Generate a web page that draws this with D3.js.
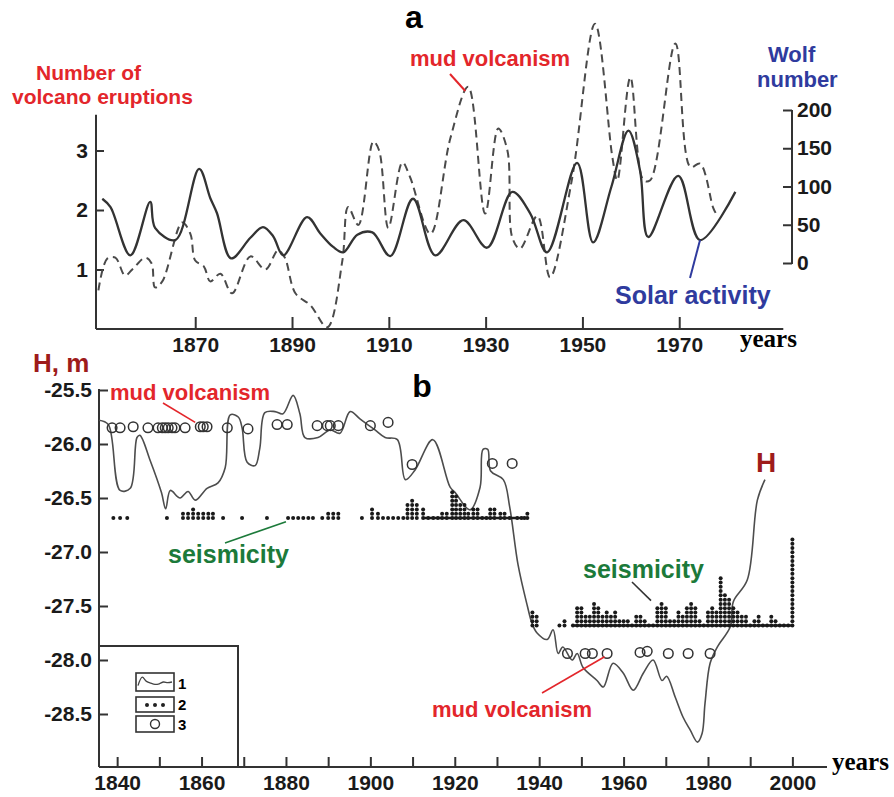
<!DOCTYPE html>
<html>
<head>
<meta charset="utf-8">
<script src="https://cdn.jsdelivr.net/npm/d3@7"></script>
<style>
  body { margin: 0; background: #fff; }
  svg { display: block; }
</style>
</head>
<body>
<div id="chart"></div>
<script>
var W = 894, H = 797;
var sans = "'Liberation Sans', Arial, sans-serif";
var serif = "'Liberation Serif', 'Times New Roman', serif";
var red = "#e3262b", blue = "#2f3b9e", green = "#1c7a3a", darkred = "#9e1b1b";

// ---- panel a data ----
var solarYears = [1850.8, 1852.5, 1856.6, 1860.7, 1861.7, 1865.9, 1870.8, 1873.1, 1874.5, 1877.4,
                  1881.4, 1884.0, 1886.1, 1888.2, 1893.1, 1895.8, 1898.5, 1900.6, 1903.5, 1906.6,
                  1910.3, 1915.0, 1919.6, 1925.4, 1930.3, 1935.5, 1939.2, 1942.7, 1948.9, 1952.2,
                  1956.0, 1959.5, 1961.9, 1963.6, 1969.8, 1974.3, 1981.6];
var solarWolf  = [84, 73, 10, 80, 46, 30, 123, 85, 65, 6,
                  33, 47, 35, 10, 60, 39, 21, 14, 37, 40,
                  9, 84, 10, 56, 20, 93, 65, 14, 131, 27,
                  100, 173, 121, 34, 114, 30, 93];

var volcYears = [1850.0, 1851.8, 1853.5, 1855.5, 1857.0, 1859.7, 1861.0, 1861.7, 1863.2, 1867.3,
                 1869.0, 1870.0, 1871.8, 1873.1, 1875.2, 1877.6, 1881.4, 1884.5, 1887.1, 1888.5,
                 1890.7, 1893.8, 1897.3, 1900.4, 1901.6, 1903.7, 1906.8, 1908.0, 1909.9, 1912.8,
                 1914.4, 1918.6, 1922.7, 1926.4, 1929.9, 1932.6, 1934.5, 1935.5, 1937.1, 1940.7,
                 1943.3, 1947.8, 1952.6, 1956.2, 1957.2, 1959.9, 1962.6, 1964.0, 1969.2, 1972.3,
                 1974.3, 1977.0, 1977.6];
var volcCount = [0.65, 1.18, 1.2, 0.9, 1.0, 1.2, 1.1, 0.7, 0.8, 1.79,
                 1.6, 1.15, 1.05, 0.8, 0.93, 0.6, 1.22, 1.0, 1.32, 1.2,
                 0.6, 0.4, 0.03, 1.15, 2.05, 1.75, 3.15, 3.0, 1.7, 2.8,
                 2.55, 1.6, 3.2, 4.07, 1.94, 3.37, 3.0, 1.54, 1.35, 1.9,
                 0.87, 2.5, 5.13, 2.88, 2.5, 4.23, 2.5, 2.5, 4.8, 2.72,
                 2.78, 2.04, 1.94];

var aYearTicks = [1870, 1890, 1910, 1930, 1950, 1970];
var aLeftTicks = [1, 2, 3];
var aRightTicks = [0, 50, 100, 150, 200];

// ---- panel b data ----
var hYears = [1835.7, 1837.9, 1840.7, 1843.1, 1844.7, 1845.4, 1847.8, 1850.5, 1851.5, 1852.6,
              1854.9, 1856.8, 1858.5, 1861.3, 1863.9, 1865.6, 1866.8, 1868.7, 1869.6, 1870.8,
              1872.7, 1873.8, 1875.0, 1877.4, 1879.3, 1881.7, 1883.3, 1884.5, 1887.6, 1890.5,
              1892.8, 1895.2, 1897.6, 1901.1, 1903.5, 1906.4, 1908.3, 1910.6, 1914.8, 1918.9,
              1920.1, 1923.6, 1926.0, 1926.7, 1927.8, 1928.5, 1931.5, 1933.0, 1935.0, 1937.2,
              1938.3, 1939.5, 1941.9, 1943.3, 1944.5, 1945.6, 1947.8, 1949.0, 1950.4, 1953.7,
              1955.2, 1957.5, 1959.9, 1962.3, 1964.7, 1967.0, 1969.1, 1970.2, 1972.2, 1974.1,
              1975.8, 1977.5, 1978.6, 1979.3, 1980.5, 1982.2, 1985.3, 1986.0, 1989.3, 1991.7,
              1993.5];
var hValues = [-25.78, -25.82, -26.43, -26.41, -25.94, -25.92, -26.15, -26.45, -26.6, -26.43,
               -26.5, -26.44, -26.52, -26.41, -26.36, -26.22, -25.73, -25.75, -25.85, -26.17,
               -26.2, -26.04, -25.71, -25.7, -25.72, -25.55, -25.72, -25.94, -25.94, -25.87,
               -25.9, -25.7, -25.77, -25.87, -25.94, -25.96, -26.33, -26.24, -25.96, -26.4,
               -26.45, -26.61, -26.4, -26.05, -26.05, -26.25, -26.33, -26.58, -27.12, -27.5,
               -27.66, -27.75, -27.81, -27.72, -27.94, -27.88, -28.0, -27.94, -28.07, -28.19,
               -28.25, -28.03, -28.12, -28.28, -28.12, -28.0, -28.19, -28.15, -28.34, -28.53,
               -28.65, -28.76, -28.68, -28.4, -28.03, -27.88, -27.69, -27.46, -27.26, -26.52,
               -26.33];

var mudYears = [1838.8, 1840.7, 1843.8, 1847.3, 1849.7, 1850.7, 1851.4, 1852.1, 1853.0, 1853.7,
                1856.1, 1859.7, 1860.4, 1861.3, 1866.1, 1871.0, 1877.9, 1880.3, 1887.4, 1889.8,
                1890.5, 1892.4, 1900.0, 1904.2, 1909.9, 1928.9, 1933.6,
                1946.7, 1950.9, 1952.6, 1956.1, 1963.9, 1965.6, 1970.6, 1975.3, 1980.5];
var mudLevel = [-25.85, -25.85, -25.84, -25.85, -25.85, -25.85, -25.85, -25.85, -25.85, -25.85,
                -25.85, -25.84, -25.84, -25.84, -25.85, -25.86, -25.82, -25.82, -25.83, -25.83,
                -25.83, -25.83, -25.83, -25.8, -26.19, -26.18, -26.18,
                -27.94, -27.94, -27.94, -27.94, -27.93, -27.92, -27.94, -27.94, -27.94];

// seismicity: number of stacked dots per position
var seisYears1 = [1839.1, 1840.7, 1842.4, 1851.8, 1855.6, 1856.8, 1858.0, 1859.2, 1860.4, 1861.6,
                  1862.7, 1865.1, 1869.6, 1875.5, 1880.5, 1881.7, 1882.9, 1884.1, 1885.3, 1886.4,
                  1888.6, 1890.0, 1891.2, 1892.4, 1898.0, 1900.4, 1901.8, 1903.0, 1904.2, 1905.4,
                  1906.6, 1907.8, 1908.8, 1909.9, 1911.0, 1912.5, 1913.7, 1914.9, 1916.0, 1917.0,
                  1918.1, 1919.4, 1920.3, 1921.3, 1922.3, 1923.2, 1924.4, 1925.4, 1926.5, 1927.5,
                  1928.4, 1929.4, 1930.8, 1931.8, 1933.0, 1934.8, 1935.8, 1936.5, 1937.2];
var seisCount1 = [1, 1, 1, 1, 2, 2, 3, 2, 2, 2,
                  2, 1, 1, 1, 1, 1, 1, 1, 1, 1,
                  1, 2, 2, 2, 1, 3, 2, 1, 1, 1,
                  1, 1, 4, 5, 4, 3, 1, 1, 1, 2,
                  2, 7, 6, 4, 4, 2, 3, 3, 1, 1,
                  3, 3, 2, 2, 1, 1, 1, 1, 2];
var seisYears2 = [1938.4, 1939.4, 1944.8, 1946.0, 1948.0, 1949.0, 1950.0, 1951.0, 1952.0, 1953.0,
                  1954.0, 1955.0, 1956.0, 1957.0, 1958.0, 1959.0, 1960.0, 1961.0, 1962.0, 1963.0,
                  1964.0, 1965.0, 1966.0, 1967.0, 1968.0, 1969.0, 1970.0, 1971.0, 1972.0, 1973.0,
                  1974.0, 1975.0, 1976.0, 1977.0, 1978.0, 1979.0, 1980.0, 1981.0, 1982.0, 1983.0,
                  1984.0, 1985.0, 1986.0, 1987.0, 1988.0, 1989.0, 1990.0, 1991.0, 1992.0, 1993.0,
                  1994.0, 1995.0, 1996.0, 1997.0, 1998.0, 1999.0, 2000.0];
var seisCount2 = [4, 3, 1, 2, 1, 5, 5, 3, 3, 6,
                  5, 3, 4, 3, 4, 2, 2, 2, 1, 3,
                  3, 2, 1, 1, 5, 6, 5, 2, 2, 4,
                  3, 5, 6, 5, 2, 1, 4, 5, 4, 12,
                  8, 7, 5, 4, 3, 3, 1, 2, 3, 1,
                  1, 3, 2, 1, 1, 1, 21];
var seisBase1 = -26.685, seisBase2 = -27.68;

var bYearTicks = d3.range(1840, 2001, 10);
var bHTicks = [-25.5, -26.0, -26.5, -27.0, -27.5, -28.0, -28.5];
var legendWiggle = [0.2, 0.9, 0.55, 0.4, 0.3, 0.35, 0.5, 0.45, 0.5];

// ---- svg ----
var svg = d3.select("#chart").append("svg")
    .attr("width", W).attr("height", H)
    .style("font-family", sans);
svg.append("rect").attr("width", W).attr("height", H).attr("fill", "#fff");

function styleAxis(g, size) {
  g.select(".domain").remove();
  g.selectAll("line").attr("stroke", "#333").attr("stroke-width", 2);
  g.selectAll("text").attr("font-size", size).attr("font-weight", "bold")
    .attr("fill", "#1a1a1a").style("font-family", sans);
}

// =============== panel a ===============
var xa = d3.scaleLinear().domain([1849.5, 1993.3]).range([96, 792]);
var ya = d3.scaleLinear().domain([0, 3.6]).range([329, 114.8]);
var yw = d3.scaleLinear().domain([0, 200]).range([263, 110]);

var ga = svg.append("g");

ga.append("g")
  .attr("transform", "translate(0,329)")
  .call(d3.axisBottom(xa).tickValues(aYearTicks).tickFormat(d3.format("d"))
        .tickSizeInner(-12).tickSizeOuter(0).tickPadding(8))
  .call(styleAxis, 21);
ga.append("line").attr("x1", xa(1849.5)).attr("x2", xa(1991.5))
  .attr("y1", 329).attr("y2", 329).attr("stroke", "#333").attr("stroke-width", 2);

ga.append("g")
  .attr("transform", "translate(96,0)")
  .call(d3.axisLeft(ya).tickValues(aLeftTicks).tickFormat(d3.format("d"))
        .tickSizeInner(-8).tickSizeOuter(0).tickPadding(8))
  .call(styleAxis, 21);
ga.append("line").attr("x1", 96).attr("x2", 96)
  .attr("y1", ya(3.6)).attr("y2", 329).attr("stroke", "#333").attr("stroke-width", 2);

ga.append("g")
  .attr("transform", "translate(792,0)")
  .call(d3.axisRight(yw).tickValues(aRightTicks)
        .tickSizeInner(-9).tickSizeOuter(0).tickPadding(5))
  .call(styleAxis, 21);
ga.append("line").attr("x1", 792).attr("x2", 792)
  .attr("y1", yw(200)).attr("y2", yw(0) + 1).attr("stroke", "#333").attr("stroke-width", 2);

var solar = solarYears.map(function(d, i) { return {x: d, y: solarWolf[i]}; });
var volc = volcYears.map(function(d, i) { return {x: d, y: volcCount[i]}; });

ga.append("path")
  .datum(volc)
  .attr("fill", "none")
  .attr("stroke", "#4a4a4a")
  .attr("stroke-width", 2)
  .attr("stroke-dasharray", "8,5")
  .attr("d", d3.line().curve(d3.curveCatmullRom.alpha(0.5))
    .x(function(d) { return xa(d.x); })
    .y(function(d) { return ya(d.y); }));

ga.append("path")
  .datum(solar)
  .attr("fill", "none")
  .attr("stroke", "#333")
  .attr("stroke-width", 2.3)
  .attr("d", d3.line().curve(d3.curveCatmullRom.alpha(0.5))
    .x(function(d) { return xa(d.x); })
    .y(function(d) { return yw(d.y); }));

// labels a
svg.append("text").attr("x", 414).attr("y", 28).attr("text-anchor", "middle")
  .attr("font-size", 32).attr("font-weight", "bold").text("a");
svg.append("text").attr("x", 36).attr("y", 80).attr("fill", red)
  .attr("font-size", 21).attr("font-weight", "bold").text("Number of");
svg.append("text").attr("x", 12).attr("y", 104).attr("fill", red)
  .attr("font-size", 21).attr("font-weight", "bold").text("volcano eruptions");
svg.append("text").attr("x", 768).attr("y", 62).attr("fill", blue)
  .attr("font-size", 22).attr("font-weight", "bold").text("Wolf");
svg.append("text").attr("x", 757).attr("y", 87).attr("fill", blue)
  .attr("font-size", 22).attr("font-weight", "bold").text("number");
svg.append("text").attr("x", 410).attr("y", 66).attr("fill", red)
  .attr("font-size", 22).attr("font-weight", "bold").text("mud volcanism");
svg.append("line").attr("x1", 450).attr("y1", 74).attr("x2", xa(1925.8)).attr("y2", ya(4.0))
  .attr("stroke", red).attr("stroke-width", 2);
svg.append("text").attr("x", 615).attr("y", 304).attr("fill", blue)
  .attr("font-size", 25).attr("font-weight", "bold").text("Solar activity");
svg.append("line").attr("x1", 690).attr("y1", 278).attr("x2", xa(1974.3)).attr("y2", yw(30))
  .attr("stroke", blue).attr("stroke-width", 2);
svg.append("text").attr("x", 740).attr("y", 347)
  .attr("font-size", 25).attr("font-weight", "bold").style("font-family", serif).text("years");

// =============== panel b ===============
var xb = d3.scaleLinear().domain([1835.7, 2008.2]).range([99, 827]);
var yb = d3.scaleLinear().domain([-29, -25.5]).range([768, 390]);

var gb = svg.append("g");

gb.append("g")
  .attr("transform", "translate(0,767)")
  .call(d3.axisBottom(xb).tickValues(bYearTicks)
        .tickFormat(function(d) { return d % 20 === 0 ? d : ""; })
        .tickSizeInner(-10).tickSizeOuter(0).tickPadding(8))
  .call(styleAxis, 21);
gb.append("line").attr("x1", 99).attr("x2", 827).attr("y1", 767).attr("y2", 767)
  .attr("stroke", "#333").attr("stroke-width", 2);

gb.append("g")
  .attr("transform", "translate(99,0)")
  .call(d3.axisLeft(yb).tickValues(bHTicks)
        .tickFormat(function(d) { return d.toFixed(1); })
        .tickSizeInner(-9).tickSizeOuter(0).tickPadding(7))
  .call(styleAxis, 21);
gb.append("line").attr("x1", 99).attr("x2", 99).attr("y1", yb(-25.5) - 1).attr("y2", 767)
  .attr("stroke", "#333").attr("stroke-width", 2);

// legend box
var lg = gb.append("g");
lg.append("path").attr("d", "M99,646 H238 V767").attr("fill", "none")
  .attr("stroke", "#333").attr("stroke-width", 2);
var boxes = [{y: 673, h: 18}, {y: 697, h: 15}, {y: 716, h: 16}];
lg.selectAll("rect.lb").data(boxes).join("rect")
  .attr("x", 136).attr("y", function(d) { return d.y; })
  .attr("width", 38).attr("height", function(d) { return d.h; })
  .attr("fill", "#fff").attr("stroke", "#333").attr("stroke-width", 1.6);
lg.selectAll("text.ln").data(["1", "2", "3"]).join("text")
  .attr("x", 178).attr("y", function(d, i) { return boxes[i].y + boxes[i].h - 2; })
  .attr("font-size", 15).attr("font-weight", "bold").text(function(d) { return d; });
var lwx = d3.scaleLinear().domain([0, legendWiggle.length - 1]).range([138, 172]);
var lwy = d3.scaleLinear().domain([0, 1]).range([688, 676]);
lg.append("path").datum(legendWiggle).attr("fill", "none").attr("stroke", "#444").attr("stroke-width", 1.3)
  .attr("d", d3.line().curve(d3.curveCatmullRom).x(function(d, i) { return lwx(i); }).y(function(d) { return lwy(d); }));
lg.selectAll("circle.ld").data([0, 1, 2]).join("circle")
  .attr("cx", function(d) { return 147 + d * 8; }).attr("cy", 705).attr("r", 2).attr("fill", "#222");
lg.append("circle").attr("cx", 155).attr("cy", 724).attr("r", 4.5)
  .attr("fill", "none").attr("stroke", "#333").attr("stroke-width", 1.4);

// H curve
var hdata = hYears.map(function(d, i) { return {x: d, y: hValues[i]}; });
gb.append("path")
  .datum(hdata)
  .attr("fill", "none")
  .attr("stroke", "#4d4d4d")
  .attr("stroke-width", 1.6)
  .attr("d", d3.line().curve(d3.curveCatmullRom.alpha(0.5))
    .x(function(d) { return xb(d.x); })
    .y(function(d) { return yb(d.y); }));

// seismicity dots
var step = 4.3;
function stackDots(years, counts, base) {
  var pts = [];
  years.forEach(function(yr, i) {
    d3.range(counts[i]).forEach(function(k) { pts.push({x: yr, k: k, base: base}); });
  });
  return pts;
}
var seis = stackDots(seisYears1, seisCount1, seisBase1).concat(stackDots(seisYears2, seisCount2, seisBase2));
gb.selectAll("circle.seis").data(seis).join("circle")
  .attr("cx", function(d) { return xb(d.x); })
  .attr("cy", function(d) { return yb(d.base) - d.k * step; })
  .attr("r", 2)
  .attr("fill", "#1a1a1a");
// baseline strokes of the dot rows
[[seisYears1, seisBase1], [seisYears2.slice(4), seisBase2]].forEach(function(p) {
  gb.append("line").attr("x1", xb(p[0][p[0] === seisYears1 ? 35 : 0])).attr("x2", xb(p[0][p[0].length - 1]))
    .attr("y1", yb(p[1])).attr("y2", yb(p[1])).attr("stroke", "#1a1a1a").attr("stroke-width", 2.5);
});

// mud volcanism circles
gb.selectAll("circle.mud").data(mudYears).join("circle")
  .attr("cx", function(d) { return xb(d); })
  .attr("cy", function(d, i) { return yb(mudLevel[i]); })
  .attr("r", 4.8)
  .attr("fill", "none")
  .attr("stroke", "#333")
  .attr("stroke-width", 1.5);

// labels b
svg.append("text").attr("x", 33).attr("y", 372).attr("fill", darkred)
  .attr("font-size", 26).attr("font-weight", "bold").text("H, m");
svg.append("text").attr("x", 422).attr("y", 397).attr("text-anchor", "middle")
  .attr("font-size", 32).attr("font-weight", "bold").text("b");
svg.append("text").attr("x", 110).attr("y", 400).attr("fill", red)
  .attr("font-size", 22).attr("font-weight", "bold").text("mud volcanism");
svg.append("line").attr("x1", 163).attr("y1", 403).attr("x2", xb(1858.5)).attr("y2", yb(-25.8))
  .attr("stroke", red).attr("stroke-width", 1.6);
svg.append("text").attr("x", 168).attr("y", 563).attr("fill", green)
  .attr("font-size", 25).attr("font-weight", "bold").text("seismicity");
svg.append("line").attr("x1", 225).attr("y1", 543).attr("x2", xb(1880)).attr("y2", yb(-26.72))
  .attr("stroke", green).attr("stroke-width", 1.6);
svg.append("text").attr("x", 583).attr("y", 578).attr("fill", green)
  .attr("font-size", 25).attr("font-weight", "bold").text("seismicity");
svg.append("line").attr("x1", 632).attr("y1", 582).attr("x2", xb(1966.5)).attr("y2", yb(-27.45))
  .attr("stroke", "#333").attr("stroke-width", 1.6);
svg.append("text").attr("x", 432).attr("y", 717).attr("fill", red)
  .attr("font-size", 22).attr("font-weight", "bold").text("mud volcanism");
svg.append("line").attr("x1", 542).attr("y1", 693).attr("x2", xb(1955.5)).attr("y2", yb(-27.97))
  .attr("stroke", red).attr("stroke-width", 1.6);
svg.append("text").attr("x", 756).attr("y", 472).attr("fill", darkred)
  .attr("font-size", 28).attr("font-weight", "bold").text("H");
svg.append("text").attr("x", 832).attr("y", 770)
  .attr("font-size", 25).attr("font-weight", "bold").style("font-family", serif).text("years");
</script>
</body>
</html>
